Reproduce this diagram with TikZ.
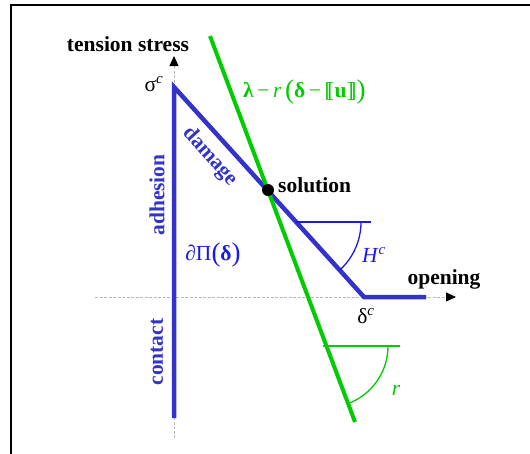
\documentclass[tikz,border=0pt]{standalone}
\usepackage{fontspec}
\setmainfont{Liberation Serif}
\usetikzlibrary{arrows.meta}
\definecolor{cblue}{RGB}{51,51,204}
\definecolor{lblue}{RGB}{25,25,235}
\definecolor{cgreen}{RGB}{0,204,0}
\newcommand{\bigpar}[1]{{\fontsize{27}{27}\selectfont\raisebox{-0.5pt}{#1}}}
\begin{document}
\begin{tikzpicture}[x=1pt,y=-1pt,
  lab/.style={font=\fontsize{21.5}{24}\selectfont\bfseries, inner sep=0pt},
  sym/.style={font=\fontsize{21.5}{24}\selectfont, inner sep=0pt},
  axis/.style={draw=gray!55, line width=0.8pt, dash pattern=on 3pt off 1.5pt,
    -{Triangle[length=10pt,width=9pt,black]}},
  profile/.style={draw=cblue, line width=4.5pt},
  gline/.style={draw=cgreen, line width=4pt},
  thinb/.style={draw=lblue, line width=1.3pt},
  thing/.style={draw=cgreen, line width=1.3pt}]
\useasboundingbox (0,0) rectangle (530,453);
\clip (0,0) rectangle (530,453);
% frame
\draw[line width=2pt] (11,470) -- (11,5) -- (545,5);
% axes
\coordinate (ybot) at (174,438);
\coordinate (ytop) at (174,56);
\coordinate (xleft) at (95,297);
\coordinate (xright) at (456,297);
\draw[axis] (ybot) -- (ytop);
\draw[axis] (xleft) -- (xright);
% blue profile
\coordinate (pb) at (174,418);
\coordinate (ps) at (174,87);
\coordinate (pd) at (364,297);
\coordinate (pe) at (426,297);
\draw[profile] (pb) -- (ps) -- (pd) -- (pe);
% green line
\coordinate (g1) at (210,36);
\coordinate (g2) at (355,422);
\draw[gline] (g1) -- (g2);
% solution point
\node[circle, fill=black, inner sep=0pt, minimum size=12pt] (sol) at (268,190) {};
% H^c angle
\coordinate (hc) at (296,222);
\coordinate (he) at (371,222);
\draw[thinb] (hc) -- (he);
\draw[thinb] (361,222) arc[start angle=0, end angle=47.9, radius=65];
% r angle
\coordinate (rc) at (326.5,346);
\coordinate (re) at (400,346);
\draw[thing] (323,346) -- (re);
\draw[thing] (388,346) arc[start angle=0, end angle=69.4, radius=61.5];
% labels
\node[lab] (ts) at (128,44) {tension stress};
\node[lab] (op) at (444,279) {opening};
\node[lab, anchor=west] (sl) at (278,185) {solution};
\node[sym] (sig) at (154,84) {σ\textsuperscript{\itshape c}};
\node[sym] (dlt) at (366,316) {δ\textsuperscript{\itshape c}};
\node[sym, text=lblue] (hl) at (374,255) {\textit{H}\textsuperscript{\itshape c}};
\node[sym, text=cgreen] (rl) at (396,390) {\textit{r}};
\node[sym, text=lblue] (dp) at (213,255) {∂Π\bigpar{(}\textbf{δ}\bigpar{)}};
\node[sym, text=cgreen, anchor=west] (ll) at (243,92)
  {\textbf{λ}\,−\,\textit{r}\,\bigpar{(}\textbf{δ}\,−\,[\kern-0.2em[\textbf{u}]\kern-0.2em]\bigpar{)}};
\node[lab, text=cblue, rotate=90] (adh) at (157,195) {adhesion};
\node[lab, text=cblue, rotate=90] (con) at (157,352) {contact};
\node[lab, text=cblue, rotate=-47.9] (dam) at (210,157) {damage};
\end{tikzpicture}
\end{document}
